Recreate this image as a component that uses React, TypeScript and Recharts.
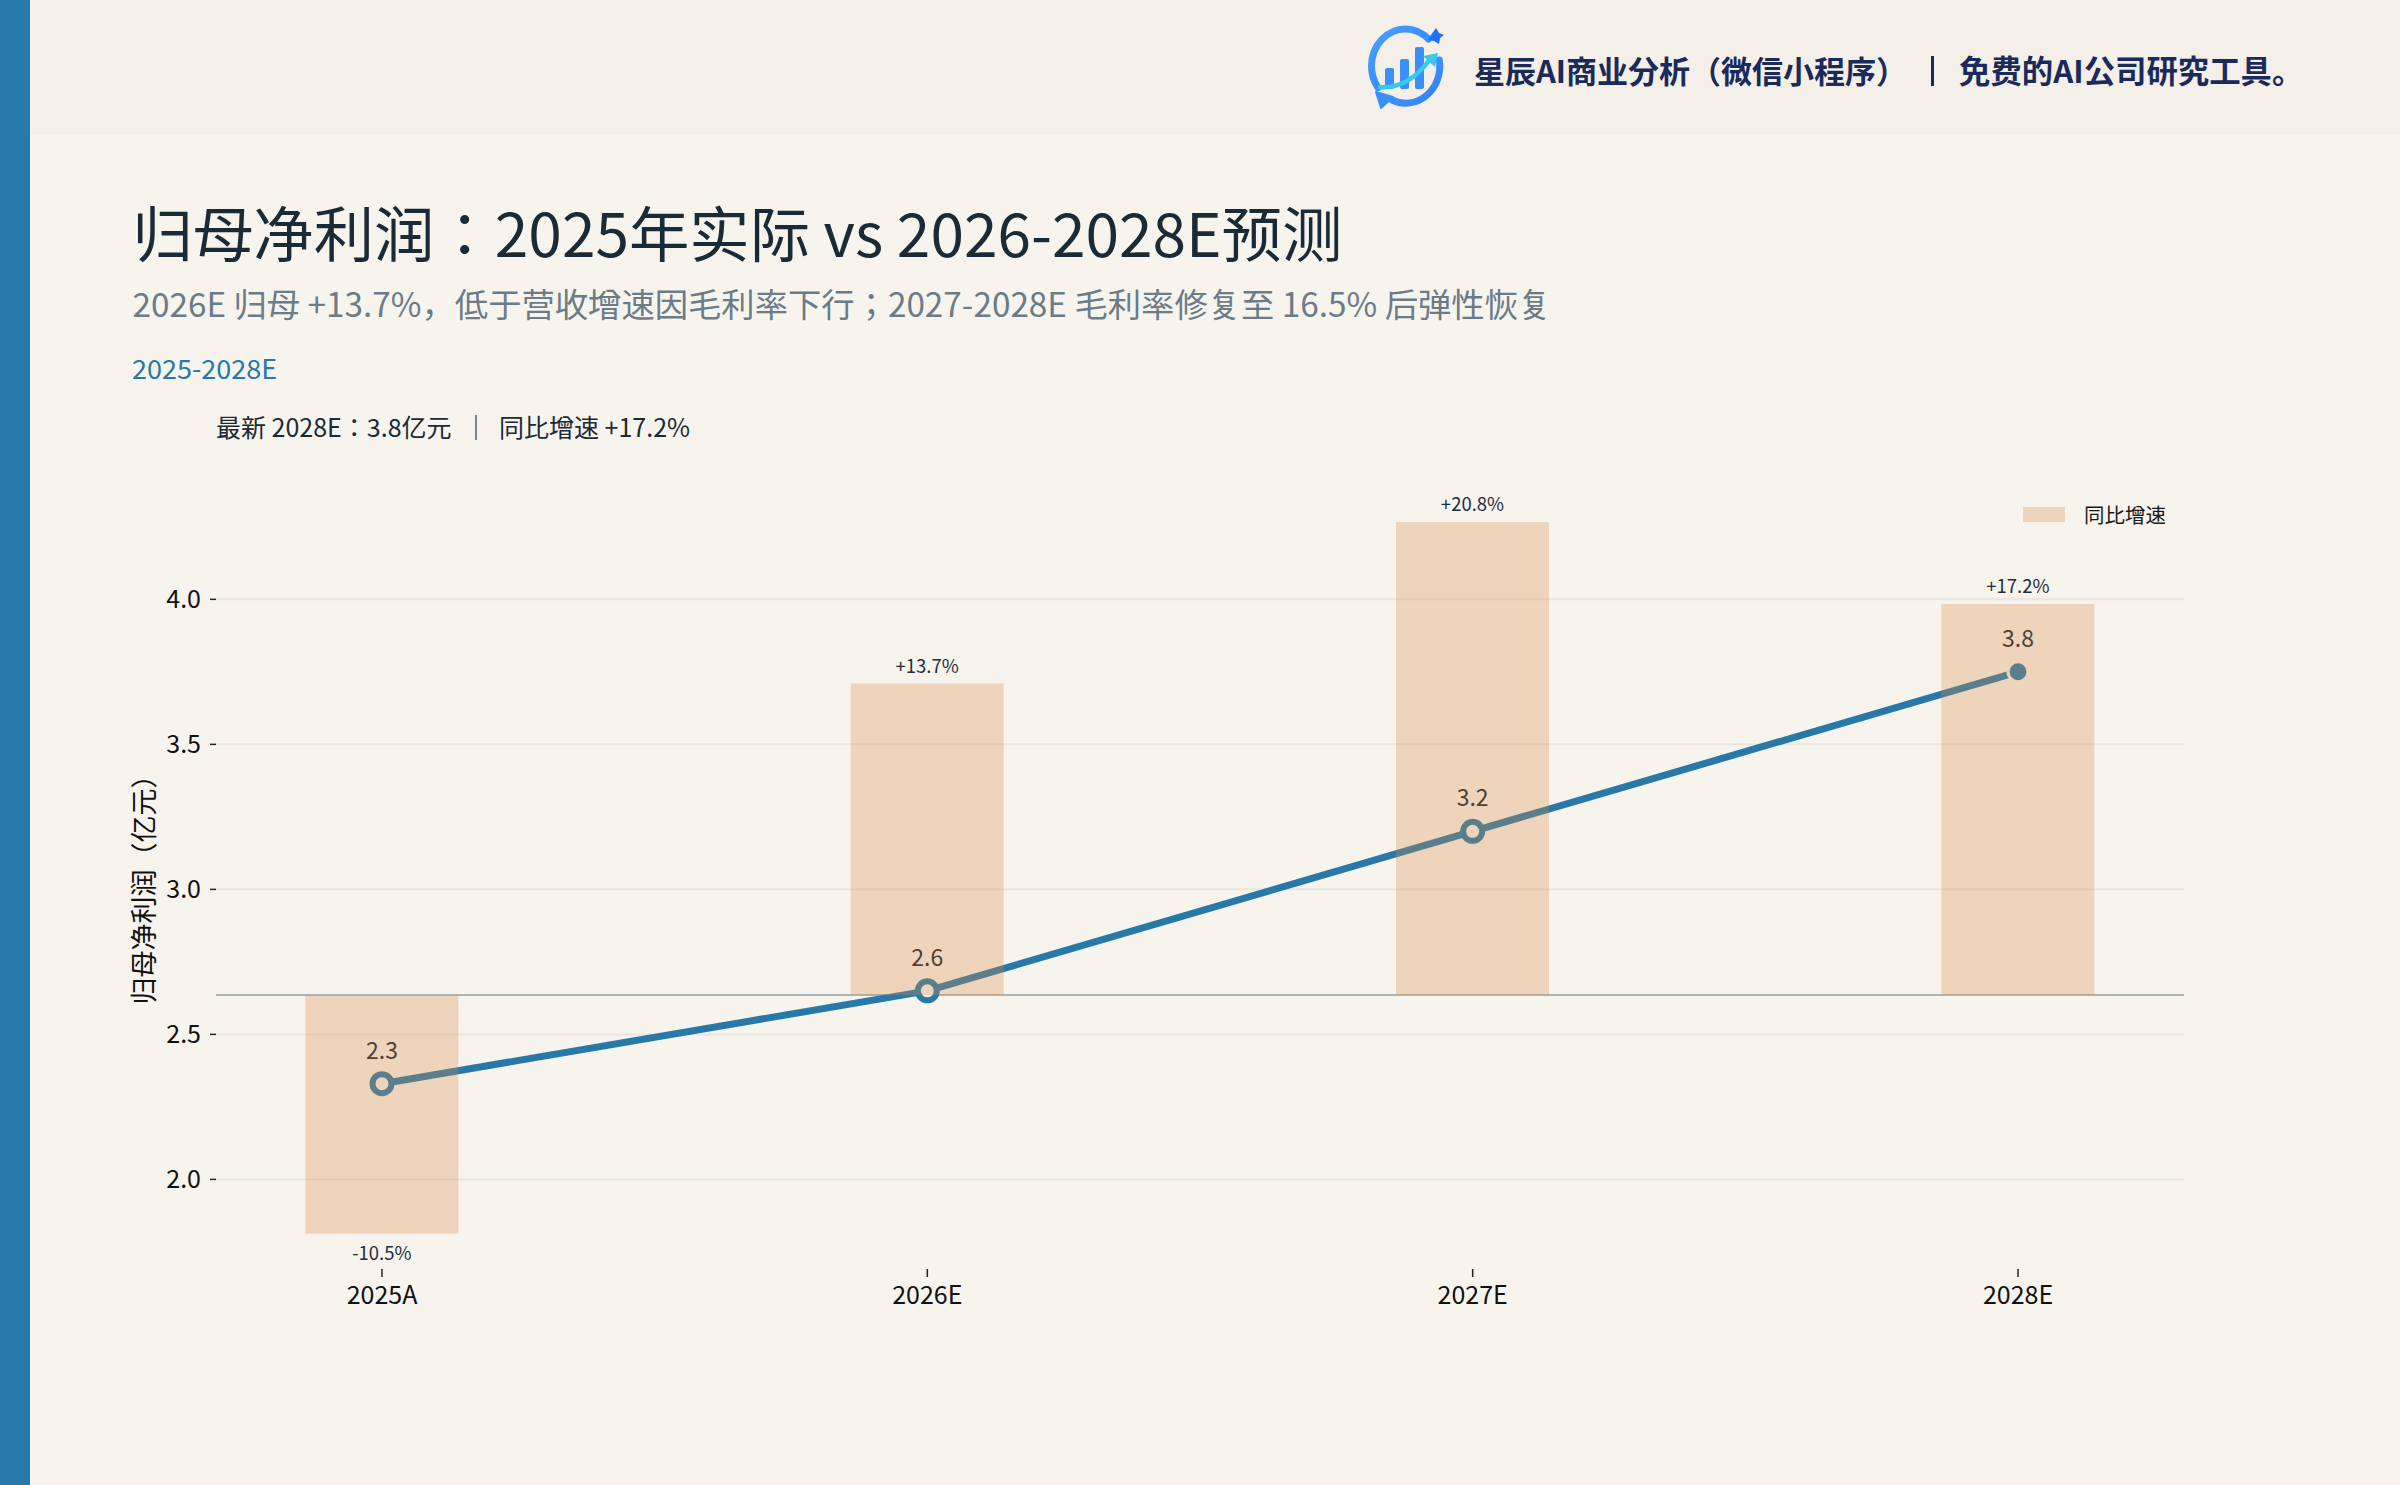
import {
  ComposedChart,
  Bar,
  Line,
  XAxis,
  YAxis,
  CartesianGrid,
  ReferenceLine,
  LabelList,
  Legend,
} from "recharts";

const FONT = '"Noto Sans CJK JP", "Noto Sans", sans-serif';
const BG = "#f7f4ee";
const BLUE = "#2878a8";
const BAR = "#d88a45";

const years = ["2025A", "2026E", "2027E", "2028E"];
const netProfit = [2.33, 2.65, 3.2, 3.75];
const yoyGrowth = [-10.5, 13.7, 20.8, 17.2];
const profitTicks = [2.0, 2.5, 3.0, 3.5, 4.0];

const rows = years.map((year, i) => ({
  year,
  profit: netProfit[i],
  growth: yoyGrowth[i],
}));

function Txt({ x, y, size, color, weight, children }: any) {
  return (
    <div
      style={{
        position: "absolute",
        left: x,
        top: y - 40,
        height: 80,
        lineHeight: "80px",
        fontSize: size,
        color,
        fontWeight: weight ?? 400,
        whiteSpace: "pre",
      }}
    >
      {children}
    </div>
  );
}

function Logo() {
  return (
    <svg
      width={130}
      height={110}
      viewBox="0 0 130 110"
      style={{ position: "absolute", left: 1340, top: 10 }}
    >
      <defs>
        <linearGradient id="logoBlue" x1="0" y1="0" x2="1" y2="1">
          <stop offset="0%" stopColor="#4aa0fb" />
          <stop offset="100%" stopColor="#2f7ffb" />
        </linearGradient>
      </defs>
      <g fill="none" stroke="url(#logoBlue)" strokeWidth={7} strokeLinecap="round">
        <path d="M88.5 29 A34 37 0 0 0 65.5 19 A34 37 0 0 0 31.5 56 A34 37 0 0 0 38 77.7" />
        <path d="M52 90 A34 37 0 0 0 99.3 50" />
      </g>
      <rect x={45} y={58} width={9} height={21} rx={2} fill="#3a8ffb" />
      <rect x={60} y={49} width={9} height={30} rx={2} fill="#3a8ffb" />
      <rect x={75} y={37} width={9} height={42} rx={2} fill="#3a8ffb" />
      <path d="M38 77 Q68 80 90 49" fill="none" stroke="#35c9ee" strokeWidth={4.5} />
      <path d="M83 46 L98 43 L95 57 Z" fill="#35c9ee" />
      <path d="M96 18 L99 23 L104 25 L100 28 L99 34 L94 31 L88 30 L91 25 Z" fill="#1f6ffb" />
      <path d="M36 82 L53 87 L41 98 Z" fill="#3a8ffb" stroke="#3a8ffb" strokeWidth={2} strokeLinejoin="round" />
    </svg>
  );
}

function GrowthLabel({ x, y, width, height, value }: any) {
  const top = Math.min(y, y + height);
  const bottom = Math.max(y, y + height);
  const sign = value > 0 ? "+" : "";
  return (
    <text
      x={x + width / 2}
      y={value >= 0 ? top - 11 : bottom + 26}
      textAnchor="middle"
      fontSize={18.5}
      fill="#1f2d3d"
    >
      {`${sign}${value.toFixed(1)}%`}
    </text>
  );
}

function ProfitDot({ cx, cy, index }: any) {
  const last = index === years.length - 1;
  if (last) {
    return <circle cx={cx} cy={cy} r={10} fill={BLUE} stroke={BG} strokeWidth={3} />;
  }
  return <circle cx={cx} cy={cy} r={9.5} fill={BG} stroke={BLUE} strokeWidth={6} />;
}

function GrowthLegend({ payload }: any) {
  const items = (payload ?? []).filter((p: any) => p.type !== "none" && p.value !== "profit");
  return (
    <div style={{ display: "flex", alignItems: "center" }}>
      {items.map((p: any) => (
        <div key={p.value} style={{ display: "flex", alignItems: "center" }}>
          <span
            style={{
              display: "inline-block",
              width: 42,
              height: 15,
              background: BAR,
              opacity: 0.3,
              marginRight: 19,
            }}
          />
          <span style={{ fontSize: 20.5, color: "#1a1a1a", lineHeight: "30px", whiteSpace: "nowrap" }}>
            {p.value}
          </span>
        </div>
      ))}
    </div>
  );
}

export default function App() {
  return (
    <div
      style={{
        position: "absolute",
        left: 0,
        top: 0,
        width: 2400,
        height: 1485,
        background: BG,
        overflow: "hidden",
        fontFamily: FONT,
      }}
    >
      <div style={{ position: "absolute", left: 0, top: 0, width: 2400, height: 135, background: "#f4efe8" }} />
      <div style={{ position: "absolute", left: 0, top: 0, width: 30, height: 1485, background: BLUE }} />
      <Logo />
      <Txt x={1474} y={70} size={31} color="#1a2a5a" weight={700}>
        星辰AI商业分析（微信小程序）
      </Txt>
      <div style={{ position: "absolute", left: 1931, top: 56, width: 3, height: 30, background: "#1a2a5a" }} />
      <Txt x={1959} y={70} size={31.4} color="#1a2a5a" weight={700}>
        免费的AI公司研究工具。
      </Txt>
      <Txt x={132.5} y={231} size={60.4} color="#1a2a36">
        归母净利润：2025年实际 vs 2026-2028E预测
      </Txt>
      <Txt x={132.5} y={303} size={33.32} color="#6b7c88">
        2026E 归母 +13.7%，低于营收增速因毛利率下行；2027-2028E 毛利率修复至 16.5% 后弹性恢复
      </Txt>
      <Txt x={132} y={368} size={27} color={BLUE}>
        2025-2028E
      </Txt>
      <Txt x={216} y={426} size={25} color="#1a2a36">
        最新 2028E：3.8亿元
      </Txt>
      <div style={{ position: "absolute", left: 475, top: 415, width: 1.5, height: 25, background: "#7a8790" }} />
      <Txt x={499} y={426} size={25} color="#1a2a36">
        同比增速 +17.2%
      </Txt>

      <div style={{ position: "absolute", left: 0, top: 0 }}>
        <ComposedChart
          width={2400}
          height={1485}
          data={rows}
          margin={{ top: 470, right: 216, bottom: 126, left: 156 }}
        >
          <CartesianGrid yAxisId="left" vertical={false} stroke="#e8e6e2" strokeWidth={2} horizontalValues={profitTicks} />
          <XAxis
            dataKey="year"
            scale="point"
            padding={{ left: 166, right: 166 }}
            height={60}
            axisLine={false}
            tickLine={{ stroke: "#222", strokeWidth: 1.5 }}
            tickSize={8}
            tickMargin={9}
            tick={{ fontSize: 25, fill: "#111", fontFamily: FONT }}
            interval={0}
          />
          <YAxis
            yAxisId="left"
            width={60}
            domain={[1.691, 4.446]}
            ticks={profitTicks}
            allowDataOverflow
            axisLine={false}
            tickLine={{ stroke: "#222", strokeWidth: 1.5 }}
            tickSize={6}
            tickMargin={9}
            tick={{ fontSize: 25, fill: "#111", fontFamily: FONT }}
            tickFormatter={(v: number) => v.toFixed(1)}
            label={{
              value: "归母净利润（亿元）",
              angle: -90,
              position: "insideLeft",
              dx: -17,
              dy: 135,
              fontSize: 27,
              fill: "#111",
              fontFamily: FONT,
            }}
          />
          <YAxis yAxisId="right" orientation="right" hide domain={[-12.05, 23.09]} allowDataOverflow />
          <ReferenceLine yAxisId="right" y={0} stroke="#aab5ba" strokeWidth={2} />
          <Line
            yAxisId="left"
            dataKey="profit"
            stroke={BLUE}
            strokeWidth={7}
            dot={(p: any) => <ProfitDot key={p.index} {...p} />}
            legendType="none"
            isAnimationActive={false}
          >
            <LabelList
              dataKey="profit"
              position="top"
              offset={25}
              fontSize={23}
              fill="#4f4237"
              formatter={(v: number) => v.toFixed(1)}
            />
          </Line>
          <Bar
            yAxisId="right"
            dataKey="growth"
            name="同比增速"
            barSize={153}
            fill={BAR}
            fillOpacity={0.3}
            isAnimationActive={false}
            zIndex={700}
          >
            <LabelList dataKey="growth" content={<GrowthLabel />} />
          </Bar>
          <Legend
            content={<GrowthLegend />}
            wrapperStyle={{ position: "absolute", left: 2023, top: 499, width: 200, height: 30 }}
          />
        </ComposedChart>
      </div>
    </div>
  );
}
